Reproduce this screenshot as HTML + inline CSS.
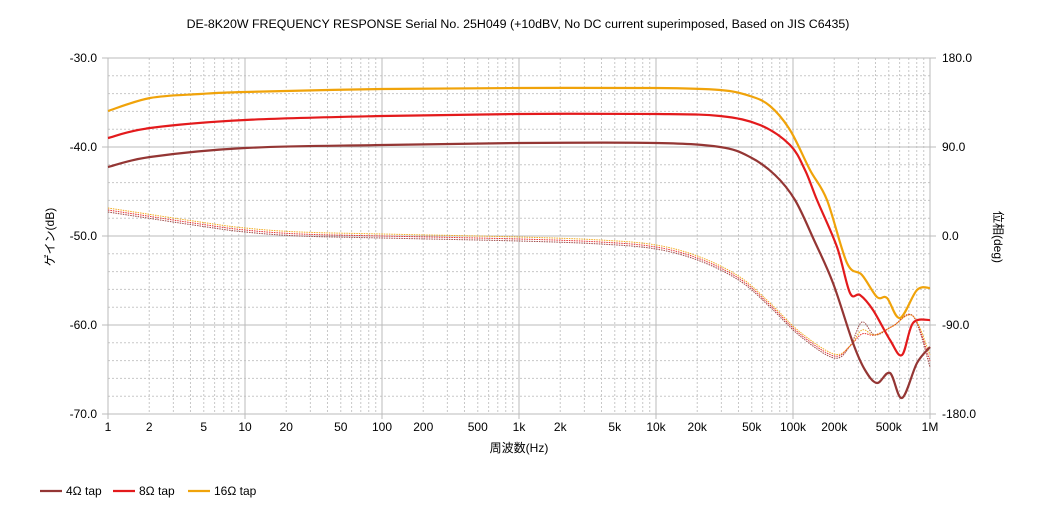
<!DOCTYPE html>
<html><head><meta charset="utf-8"><style>
body{margin:0;background:#fff;width:1040px;height:520px;overflow:hidden}
svg{font-family:"Liberation Sans","Noto Sans CJK JP",sans-serif;font-size:12px}
</style></head><body>
<svg id="s" width="1040" height="520" xmlns="http://www.w3.org/2000/svg"></svg>
<script>
const s=document.getElementById('s');let h='';
const X0=108,DX=137,Y0=58,Y1=414;
const fx=f=>X0+DX*Math.log10(f);
h+=`<rect width="1040" height="520" fill="#fff"/>`;
for(let i=0;i<=20;i++){const y=Y0+(Y1-Y0)*i/20;if(i%5)h+=`<line x1="${X0}" x2="930" y1="${y}" y2="${y}" stroke="#c8c8c8" stroke-dasharray="2,2"/>`;}
for(let d=0;d<6;d++)for(let k=2;k<10;k++){const x=fx(k*Math.pow(10,d));h+=`<line x1="${x}" x2="${x}" y1="${Y0}" y2="${Y1}" stroke="#c8c8c8" stroke-dasharray="2,2"/>`;}
for(let i=0;i<=4;i++){const y=Y0+(Y1-Y0)*i/4;h+=`<line x1="102" x2="936" y1="${y}" y2="${y}" stroke="#bbb"/>`;
h+=`<text x="97" y="${y+4}" text-anchor="end">${(-30-10*i).toFixed(1)}</text>`;
h+=`<text x="942" y="${y+4}">${(180-90*i).toFixed(1)}</text>`;}
for(let d=0;d<=6;d++){const x=fx(Math.pow(10,d));h+=`<line x1="${x}" x2="${x}" y1="${Y0}" y2="${Y1+5}" stroke="#bbb"/>`;}
const labs=[[1,'1'],[2,'2'],[5,'5'],[10,'10'],[20,'20'],[50,'50'],[100,'100'],[200,'200'],[500,'500'],[1e3,'1k'],[2e3,'2k'],[5e3,'5k'],[1e4,'10k'],[2e4,'20k'],[5e4,'50k'],[1e5,'100k'],[2e5,'200k'],[5e5,'500k'],[1e6,'1M']];
labs.forEach(([f,t])=>h+=`<text x="${fx(f)}" y="431" text-anchor="middle">${t}</text>`);
function path(p){let d=`M${p[0][0]},${p[0][1]}`;for(let i=0;i<p.length-1;i++){const a=p[i-1]||p[i],b=p[i],c=p[i+1],e=p[i+2]||c;
d+=`C${b[0]+(c[0]-a[0])/6},${b[1]+(c[1]-a[1])/6} ${c[0]-(e[0]-b[0])/6},${c[1]-(e[1]-b[1])/6} ${c[0]},${c[1]}`;}return d;}
const C1='#943634',C2='#e31a1c',C3='#f0a30a';
const ph=(dy,bx)=>[[108,208+dy],[200,222+dy],[245,228+dy],[300,232+dy],[382,234+dy],[519,237+dy],[600,240+dy],[656,245+dy],[700,257+dy],[740,277+dy],[770,303+dy],[800,332+dy],[834,354+dy],[850,346],[862,330+bx],[875,335],[893,326],[913,316],[930,355+dy*3]];
[[C1,ph(4,-8)],[C2,ph(2,4)],[C3,ph(0,0)]].forEach(([c,p])=>h+=`<path d="${path(p)}" fill="none" stroke="${c}" stroke-width="1" stroke-dasharray="1.5,1" opacity="0.9"/>`);
const dark=[[108,167],[150,157],[245,148],[382,145],[519,143],[656,143],[720,147],[750,157],[775,175],[795,200],[814,240],[833,283],[853,343],[865,370],[877,383],[890,373],[902,398],[917,363],[930,347]];
const red=[[108,138],[150,128],[245,120],[382,116],[519,114],[656,114],[720,116],[760,125],[790,145],[805,170],[817,200],[837,247],[850,293],[860,295],[873,310],[890,340],[902,355],[913,323],[930,320]];
const yel=[[108,111],[150,98],[200,94],[245,92],[382,89],[519,88],[656,88],[720,90],[750,96],[770,106],[790,130],[810,170],[827,200],[847,263],[862,275],[877,297],[887,298],[900,318],[917,290],[930,288]];
[[C1,dark],[C2,red],[C3,yel]].forEach(([c,p])=>h+=`<path d="${path(p)}" fill="none" stroke="${c}" stroke-width="2.2"/>`);
h+=`<text x="518" y="28" text-anchor="middle" style="font-size:12.4px">DE-8K20W FREQUENCY RESPONSE Serial No. 25H049 (+10dBV,  No DC current superimposed,  Based on JIS C6435)</text>`;
h+=`<text x="519" y="452" text-anchor="middle">周波数(Hz)</text>`;
h+=`<text transform="translate(54,237) rotate(-90)" text-anchor="middle">ゲイン(dB)</text>`;
h+=`<text transform="translate(994,237) rotate(90)" text-anchor="middle">位相(deg)</text>`;
[[C1,40,'4Ω tap'],[C2,113,'8Ω tap'],[C3,188,'16Ω tap']].forEach(([c,x,t])=>{h+=`<line x1="${x}" x2="${x+22}" y1="491" y2="491" stroke="${c}" stroke-width="2.2"/><text x="${x+26}" y="495">${t}</text>`;});
s.innerHTML=h;
</script>
</body></html>
